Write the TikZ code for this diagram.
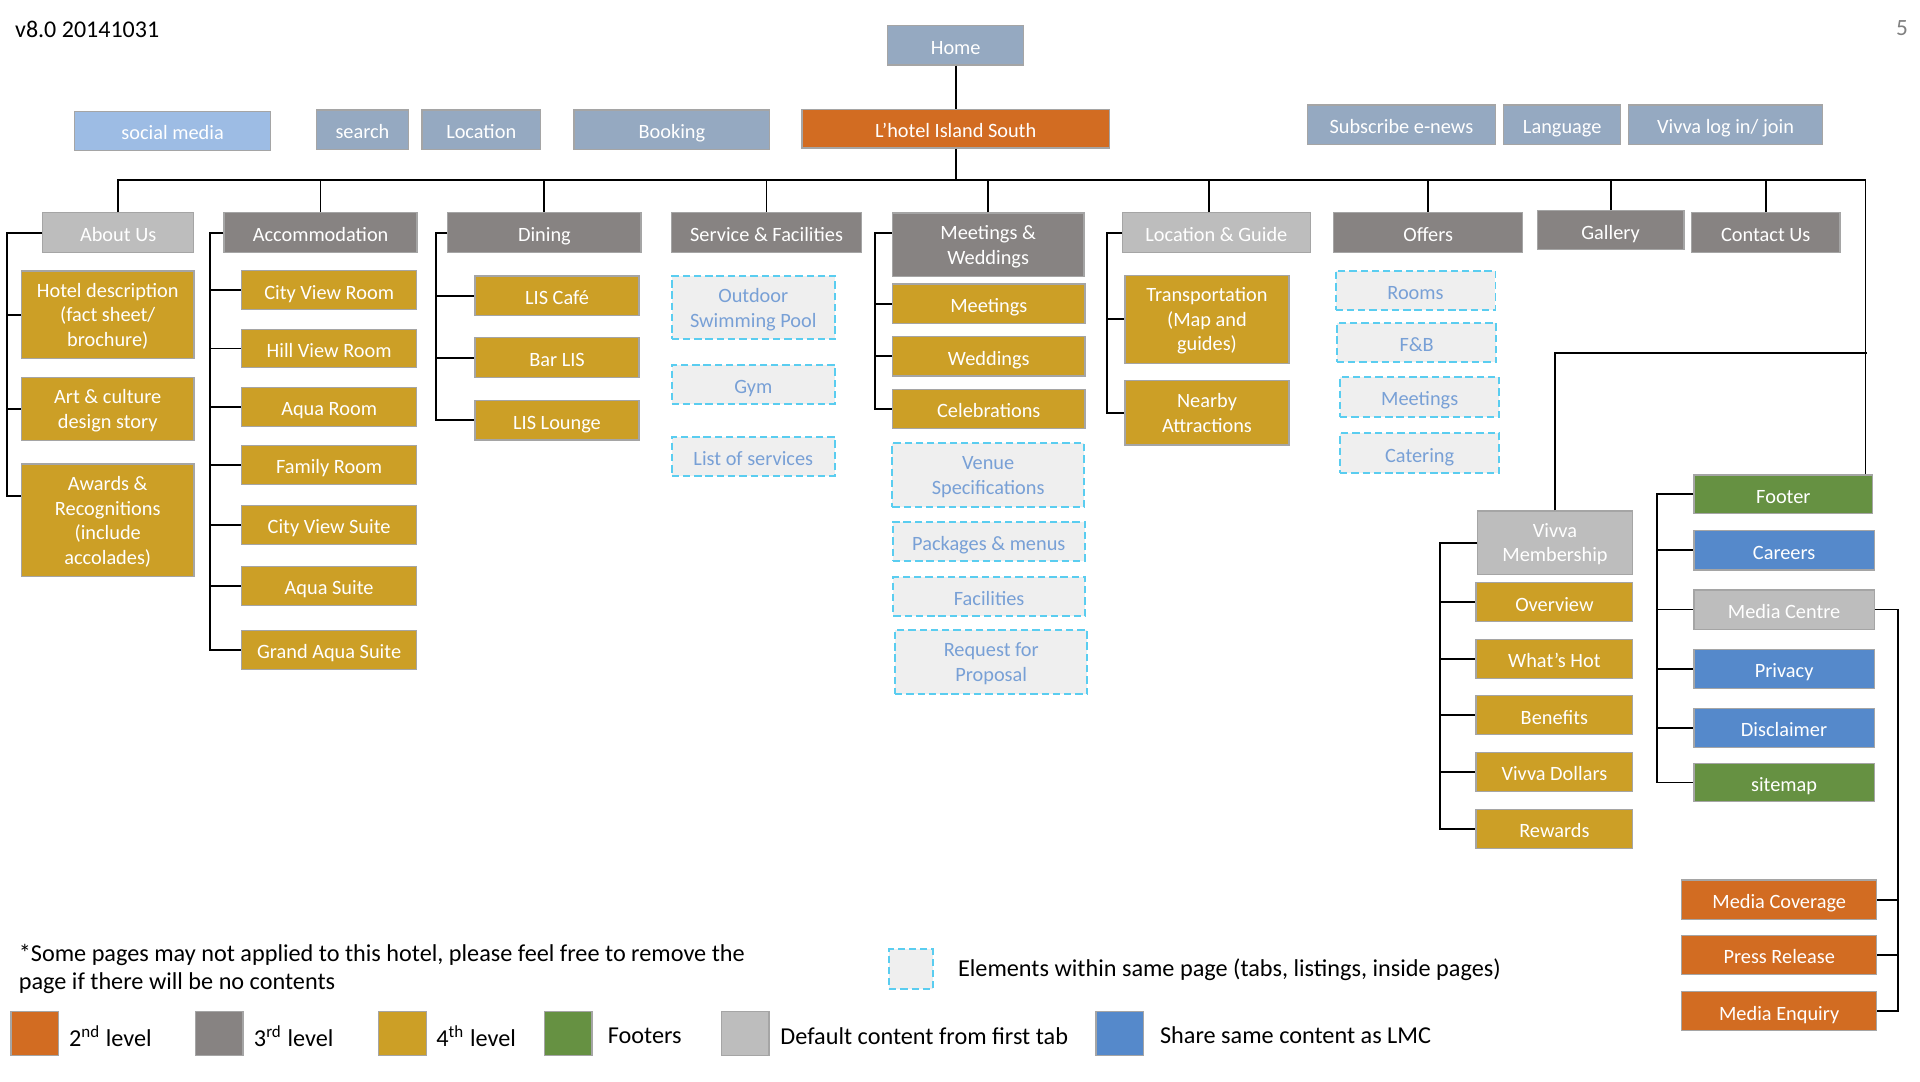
\documentclass[tikz,border=0pt]{standalone}
\usepackage{fontspec}
\setmainfont{Carlito}
\definecolor{navblue}{RGB}{149,169,193}
\definecolor{socblue}{RGB}{157,188,228}
\definecolor{orng}{RGB}{210,108,34}
\definecolor{dgrey}{RGB}{135,131,130}
\definecolor{lgrey}{RGB}{189,189,189}
\definecolor{gold}{RGB}{204,159,38}
\definecolor{fgreen}{RGB}{102,145,66}
\definecolor{sblue}{RGB}{85,137,203}
\definecolor{dashfill}{RGB}{239,239,239}
\definecolor{dashline}{RGB}{90,205,240}
\definecolor{dashtext}{RGB}{120,160,214}
\definecolor{boxline}{RGB}{165,165,165}
\newcommand\boxfnt{\fontsize{8.3}{10}\selectfont}
\newcommand\legfnt{\fontsize{9.9}{11.5}\selectfont}
\tikzset{
  lowtext/.style={text depth=0pt, execute at begin node={\rule{0pt}{7.3pt}}},
  ml/.style={execute at begin node={\rule{0pt}{9.5pt}}},
  bx/.style={draw=boxline, line width=0.5pt, text=white, font=\boxfnt, align=center, inner sep=0pt, lowtext},
  dbx/.style={draw=dashline, fill=dashfill, line width=0.8pt, dash pattern=on 3pt off 1.6pt, text=dashtext, font=\boxfnt, align=center, inner sep=0pt, lowtext},
  conn/.style={draw=black, line width=0.75pt},
  lg/.style={font=\legfnt, anchor=west, inner sep=0pt, text=black},
  sq/.style={draw=boxline, line width=0.5pt, minimum width=19.5pt, minimum height=18pt, inner sep=0pt}
}
\begin{document}
\begin{tikzpicture}[x=0.5pt, y=-0.5pt]
\useasboundingbox (0,0) rectangle (1568,883);
\fill[white] (0,0) rectangle (1568,883);

% header texts
\node[lg, font=\fontsize{9.8}{11}\selectfont] (ver) at (12,24) {v8.0 20141031};
\node[lg, font=\fontsize{9.5}{11}\selectfont, text=black!50] (pg) at (1548,23) {5};

% top level
\node[bx, fill=navblue, minimum width=55.5pt, minimum height=16pt] (home) at (780.5,37) {Home};
\node[bx, fill=orng, minimum width=125.5pt, minimum height=15.8pt] (lhotel) at (780.5,105) {L'hotel Island South};
\node[bx, fill=socblue, minimum width=80pt, minimum height=16pt] (social) at (141,107) {social media};
\node[bx, fill=navblue, minimum width=37.3pt, minimum height=16.1pt] (search) at (296,106) {search};
\node[bx, fill=navblue, minimum width=48.3pt, minimum height=16.1pt] (loc) at (393,106) {Location};
\node[bx, fill=navblue, minimum width=80pt, minimum height=16.1pt] (booking) at (548.7,106) {Booking};
\node[bx, fill=navblue, minimum width=76.5pt, minimum height=16.1pt] (subs) at (1144.5,101.8) {Subscribe e-news};
\node[bx, fill=navblue, minimum width=47.8pt, minimum height=16.1pt] (lang) at (1275.8,101.8) {Language};
\node[bx, fill=navblue, minimum width=79.2pt, minimum height=16.1pt] (vlog) at (1409.2,101.8) {Vivva log in/ join};

% level 2
\node[bx, fill=lgrey, minimum width=61.5pt, minimum height=16.2pt] (about) at (96.5,190) {About Us};
\node[bx, fill=dgrey, minimum width=78.8pt, minimum height=16.2pt] (accom) at (261.8,190) {Accommodation};
\node[bx, fill=dgrey, minimum width=78.9pt, minimum height=16.2pt] (dining) at (444.6,190) {Dining};
\node[bx, fill=dgrey, minimum width=77.6pt, minimum height=16.2pt] (service) at (626,190) {Service \& Facilities};
\node[bx, ml, fill=dgrey, minimum width=78.3pt, minimum height=26pt] (mw) at (807,200) {Meetings \&\\Weddings};
\node[bx, fill=lgrey, minimum width=77pt, minimum height=16.2pt] (locg) at (993.4,190) {Location \& Guide};
\node[bx, fill=dgrey, minimum width=77pt, minimum height=16.2pt] (offers) at (1166.3,190) {Offers};
\node[bx, fill=dgrey, minimum width=60pt, minimum height=16pt] (gallery) at (1315.3,188) {Gallery};
\node[bx, fill=dgrey, minimum width=60.7pt, minimum height=16.2pt] (contact) at (1442,190) {Contact Us};

% About Us children
\node[bx, ml, fill=gold, minimum width=70.4pt, minimum height=35.8pt] (hotel) at (88,257.1) {Hotel description\\(fact sheet/\\brochure)};
\node[bx, ml, fill=gold, minimum width=70.4pt, minimum height=25.9pt] (art) at (88,334) {Art \& culture\\design story};
\node[bx, ml, fill=gold, minimum width=70.4pt, minimum height=46pt] (awards) at (88,424.9) {Awards \&\\Recognitions\\(include\\accolades)};

% Accommodation children
\node[bx, fill=gold, minimum width=71.5pt, minimum height=15.8pt] (cvr) at (268.8,237) {City View Room};
\node[bx, fill=gold, minimum width=71.5pt, minimum height=15.8pt] (hvr) at (268.8,284.6) {Hill View Room};
\node[bx, fill=gold, minimum width=71.5pt, minimum height=15.8pt] (aqr) at (268.8,332.2) {Aqua Room};
\node[bx, fill=gold, minimum width=71.5pt, minimum height=15.8pt] (fam) at (268.8,379.6) {Family Room};
\node[bx, fill=gold, minimum width=71.5pt, minimum height=15.8pt] (cvs) at (268.8,428.6) {City View Suite};
\node[bx, fill=gold, minimum width=71.5pt, minimum height=15.8pt] (aqs) at (268.8,478.5) {Aqua Suite};
\node[bx, fill=gold, minimum width=71.5pt, minimum height=15.8pt] (gas) at (268.8,530.8) {Grand Aqua Suite};

% Dining children
\node[bx, fill=gold, minimum width=67pt, minimum height=16.2pt] (cafe) at (454.9,241.6) {LIS Café};
\node[bx, fill=gold, minimum width=67pt, minimum height=16.2pt] (barlis) at (454.9,292.1) {Bar LIS};
\node[bx, fill=gold, minimum width=67pt, minimum height=16.2pt] (lounge) at (454.9,343.1) {LIS Lounge};

% Service children
\node[dbx, ml, minimum width=66.7pt, minimum height=25.9pt] (pool) at (615.2,251.3) {Outdoor\\Swimming Pool};
\node[dbx, minimum width=66.7pt, minimum height=16pt] (gym) at (615.2,313.8) {Gym};
\node[dbx, minimum width=66.7pt, minimum height=16pt] (listsvc) at (615.2,372.7) {List of services};

% Meetings & Weddings children
\node[bx, fill=gold, minimum width=78.5pt, minimum height=16pt] (meet) at (807.5,248) {Meetings};
\node[bx, fill=gold, minimum width=78.5pt, minimum height=16pt] (wed) at (807.5,291) {Weddings};
\node[bx, fill=gold, minimum width=78.5pt, minimum height=16pt] (celeb) at (807.5,334) {Celebrations};
\node[dbx, ml, minimum width=78.3pt, minimum height=26.2pt] (venue) at (807,388.2) {Venue\\Specifications};
\node[dbx, minimum width=78.5pt, minimum height=16pt] (pack) at (807.5,442) {Packages \& menus};
\node[dbx, minimum width=78.2pt, minimum height=16pt] (fac) at (807.8,487) {Facilities};
\node[dbx, ml, minimum width=78.5pt, minimum height=26.2pt] (rfp) at (809.5,540.7) {Request for\\Proposal};

% Location & Guide children
\node[bx, ml, fill=gold, minimum width=67pt, minimum height=36pt] (transp) at (985.7,260.7) {Transportation\\(Map and\\guides)};
\node[bx, ml, fill=gold, minimum width=67pt, minimum height=26.2pt] (nearby) at (985.7,337.2) {Nearby\\Attractions};

% Offers children
\node[dbx, minimum width=65.3pt, minimum height=16pt] (rooms) at (1156,237) {Rooms};
\node[dbx, minimum width=65.2pt, minimum height=16pt] (fb) at (1156.9,280) {F\&B};
\node[dbx, minimum width=65pt, minimum height=16.2pt] (ofmeet) at (1159.4,324.1) {Meetings};
\node[dbx, minimum width=65pt, minimum height=16pt] (catering) at (1159.4,370) {Catering};

% Vivva
\node[bx, ml, fill=lgrey, minimum width=63.4pt, minimum height=25.9pt] (vm) at (1269.9,443.2) {Vivva\\Membership};
\node[bx, fill=gold, minimum width=64pt, minimum height=16pt] (ov) at (1269.4,491.7) {Overview};
\node[bx, fill=gold, minimum width=64pt, minimum height=16pt] (hot) at (1269.4,538) {What’s Hot};
\node[bx, fill=gold, minimum width=64pt, minimum height=16pt] (ben) at (1269.4,584) {Benefits};
\node[bx, fill=gold, minimum width=64pt, minimum height=16pt] (vd) at (1269.4,630.5) {Vivva Dollars};
\node[bx, fill=gold, minimum width=64pt, minimum height=16pt] (rew) at (1269.4,677) {Rewards};

% Footer
\node[bx, fill=fgreen, minimum width=73pt, minimum height=15.6pt] (footer) at (1456.4,403.6) {Footer};
\node[bx, fill=sblue, minimum width=73.6pt, minimum height=16pt] (careers) at (1457,449.5) {Careers};
\node[bx, fill=lgrey, minimum width=73.6pt, minimum height=16pt] (mediac) at (1457,497.8) {Media Centre};
\node[bx, fill=sblue, minimum width=73.6pt, minimum height=16pt] (privacy) at (1457,546.2) {Privacy};
\node[bx, fill=sblue, minimum width=73.6pt, minimum height=16pt] (discl) at (1457,594.5) {Disclaimer};
\node[bx, fill=fgreen, minimum width=73.6pt, minimum height=15.7pt] (sitemap) at (1457,639) {sitemap};

% Media
\node[bx, fill=orng, minimum width=79.7pt, minimum height=16pt] (mcov) at (1453,734.7) {Media Coverage};
\node[bx, fill=orng, minimum width=79.7pt, minimum height=16pt] (press) at (1453,779.9) {Press Release};
\node[bx, fill=orng, minimum width=79.7pt, minimum height=16pt] (menq) at (1453,825.7) {Media Enquiry};

% ---------- connectors ----------
\coordinate (bar) at (780.5,147);
\coordinate (vjoin) at (1524.3,288);
\draw[conn] (home) -- (lhotel);
\draw[conn] (lhotel.south) -- (bar);
\draw[conn] (about.north) |- (bar);
\draw[conn] (accom.north) |- (bar);
\draw[conn] (dining.north) |- (bar);
\draw[conn] (service.north) |- (bar);
\draw[conn] (mw.north) |- (bar);
\draw[conn] ([xshift=-3.2pt]locg.north) |- (bar);
\draw[conn] (offers.north) |- (bar);
\draw[conn] (gallery.north) |- (bar);
\draw[conn] (contact.north) |- (bar);
\draw[conn] (bar) -| ([xshift=-3.2pt]footer.north east);
\draw[conn] (vm.north) |- (vjoin);

\coordinate (sA) at (5.4,190);
\draw[conn] (about.west) -- (sA) |- ([yshift=10pt]awards.west);
\draw[conn] (sA) |- (hotel.west);
\draw[conn] (sA) |- (art.west);

\coordinate (sB) at (171.5,190);
\draw[conn] (accom.west) -- (sB) |- (gas.west);
\foreach \n in {cvr,hvr,aqr,fam,cvs,aqs} \draw[conn] (sB) |- (\n.west);

\coordinate (sC) at (355.8,190);
\draw[conn] (dining.west) -- (sC) |- (lounge.west);
\draw[conn] (sC) |- (cafe.west);
\draw[conn] (sC) |- (barlis.west);

\coordinate (sD) at (714.6,190);
\draw[conn] ([yshift=5pt]mw.west) -- (sD) |- (celeb.west);
\draw[conn] (sD) |- (meet.west);
\draw[conn] (sD) |- (wed.west);

\coordinate (sE) at (903.7,190);
\draw[conn] (locg.west) -- (sE) |- (nearby.west);
\draw[conn] (sE) |- (transp.west);

\coordinate (sF) at (1176,443.2);
\draw[conn] (vm.west) -- (sF) |- (rew.west);
\foreach \n in {ov,hot,ben,vd} \draw[conn] (sF) |- (\n.west);

\coordinate (sG) at (1353.5,403.6);
\draw[conn] (footer.west) -- (sG) |- (sitemap.west);
\foreach \n in {careers,mediac,privacy,discl} \draw[conn] (sG) |- (\n.west);

\coordinate (sH) at (1550.3,497.8);
\draw[conn] (mediac.east) -- (sH) |- (menq.east);
\draw[conn] (sH) |- (mcov.east);
\draw[conn] (sH) |- (press.east);

% ---------- legend ----------
\node[lg, anchor=north west, align=left] (note) at (15,771) {*Some pages may not applied to this hotel, please feel free to remove the\\page if there will be no contents};
\node[dbx, minimum width=18pt, minimum height=16.5pt] (lgdash) at (744,791.5) {};
\node[lg] (tdash) at (782,792) {Elements within same page (tabs, listings, inside pages)};
\node[sq, fill=orng] (lg1) at (28.5,844) {};
\node[lg] (t1) at (56,846) {2\textsuperscript{nd} level};
\node[sq, fill=dgrey] (lg2) at (179,844) {};
\node[lg] (t2) at (207,846) {3\textsuperscript{rd} level};
\node[sq, fill=gold] (lg3) at (328.5,844) {};
\node[lg] (t3) at (356,846) {4\textsuperscript{th} level};
\node[sq, fill=fgreen] (lg4) at (464,844) {};
\node[lg] (t4) at (496,846) {Footers};
\node[sq, fill=lgrey] (lg5) at (608.5,844) {};
\node[lg] (t5) at (637,846) {Default content from first tab};
\node[sq, fill=sblue] (lg6) at (914.5,844) {};
\node[lg] (t6) at (947,845) {Share same content as LMC};
\end{tikzpicture}
\end{document}
